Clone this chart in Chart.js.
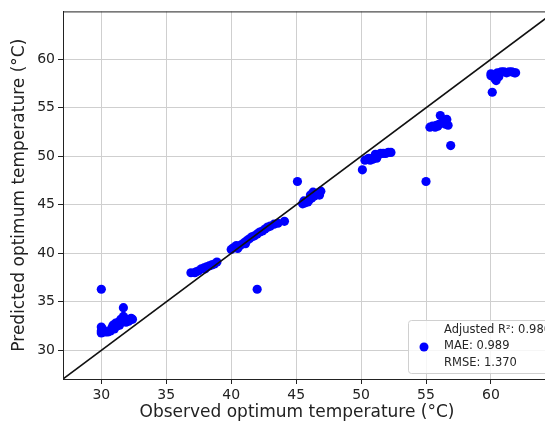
<!DOCTYPE html>
<html>
<head>
<meta charset="utf-8">
<script src="https://cdn.jsdelivr.net/npm/chart.js@4/dist/chart.umd.min.js"></script>
<style>
  html, body { margin: 0; padding: 0; overflow: hidden; background: #fff; }
</style>
</head>
<body>
<canvas id="grafica" width="560" height="421"></canvas>
<script>
const $grafica = document.querySelector("#grafica");

// observed / predicted optimum temperatures (°C)
const observado = [
  30.0, 30.0, 30.0, 30.1, 30.3, 30.5, 30.7, 30.8, 30.9, 31.0, 31.1, 31.2, 31.3, 31.4, 31.5, 31.6, 31.7, 31.7, 31.8, 31.9, 32.0, 32.1, 32.3, 32.4, 30.0,
  36.9, 37.2, 37.3, 37.5, 37.7, 37.9, 38.0, 38.1, 38.3, 38.5, 38.7, 38.9,
  40.0, 40.2, 40.4, 40.5, 40.6, 40.8, 41.0, 41.1, 41.2, 41.4, 41.6, 41.8, 42.0, 42.2, 42.4, 42.6, 42.8, 43.0, 43.3, 43.6, 44.1, 42.0,
  45.5, 45.6, 45.7, 45.9, 46.0, 46.1, 46.2, 46.4, 46.3, 46.6, 46.8, 46.9, 45.1,
  50.3, 50.5, 50.6, 50.7, 50.9, 51.0, 51.1, 51.2, 51.3, 51.5, 51.7, 51.9, 52.1, 52.3, 50.1, 55.0,
  55.3, 55.5, 55.7, 55.8, 55.9, 56.0, 56.1, 56.3, 56.5, 56.6, 56.7, 56.9,
  60.0, 60.0, 60.2, 60.3, 60.4, 60.5, 60.6, 60.8, 61.0, 61.2, 61.4, 61.6, 61.8, 61.9, 60.1
];
const predicho = [
  32.0, 32.4, 31.8, 32.2, 31.9, 31.9, 32.0, 32.3, 32.6, 32.2, 32.8, 32.5, 32.9, 32.6, 33.2, 33.0, 33.5, 34.4, 33.3, 32.9, 33.1, 33.0, 33.3, 33.2, 36.3,
  38.0, 38.0, 38.1, 38.2, 38.4, 38.5, 38.4, 38.6, 38.7, 38.8, 38.9, 39.1,
  40.4, 40.6, 40.8, 40.5, 40.7, 40.9, 41.1, 41.0, 41.3, 41.5, 41.7, 41.8, 42.0, 42.2, 42.3, 42.5, 42.7, 42.8, 43.0, 43.1, 43.3, 36.3,
  45.1, 45.4, 45.2, 45.3, 45.5, 46.0, 45.7, 45.9, 46.3, 46.2, 46.0, 46.4, 47.4,
  49.6, 49.7, 49.8, 49.6, 49.7, 49.9, 50.2, 49.8, 50.1, 50.3, 50.3, 50.3, 50.4, 50.4, 48.6, 47.4,
  53.0, 53.1, 53.0, 53.2, 53.1, 53.3, 54.2, 53.5, 53.3, 53.8, 53.2, 51.1,
  58.3, 58.5, 58.4, 58.0, 57.8, 58.6, 58.2, 58.7, 58.7, 58.6, 58.7, 58.7, 58.6, 58.6, 56.6
];
const lineaIdeal = [27, 65];
const marcas = [30, 35, 40, 45, 50, 55, 60];
const leyenda = ["Adjusted R²: 0.980", "MAE: 0.989", "RMSE: 1.370"];
const tituloX = "Observed optimum temperature (°C)";

const puntos = observado.map((x, i) => ({ x: x, y: predicho[i] }));
const diagonal = lineaIdeal.map(v => ({ x: v, y: v }));

const fuente = "'DejaVu Sans', sans-serif";

const marco = {
  id: "marco",
  afterDraw(chart) {
    const { ctx, chartArea: a } = chart;
    ctx.save();
    ctx.strokeStyle = "#222";
    ctx.lineWidth = 1;
    ctx.strokeRect(a.left + 0.5, a.top + 0.5, a.right - a.left - 1, a.bottom - a.top);

    // x axis title (sits a bit left of the plot centre in the original)
    ctx.fillStyle = "#222";
    ctx.font = "17px " + fuente;
    ctx.textAlign = "center";
    ctx.textBaseline = "middle";
    ctx.fillText(tituloX, a.left + 234, 413);

    // legend box
    ctx.textAlign = "left";
    ctx.font = "11.5px " + fuente;
    const anchoTexto = Math.max(...leyenda.map(t => ctx.measureText(t).width));
    const izq = a.right - 147;
    const textoX = izq + 36;
    const arriba = a.bottom - 59;
    const alto = 53;
    const ancho = textoX - izq + anchoTexto + 8;
    ctx.beginPath();
    ctx.roundRect(izq + 0.5, arriba + 0.5, ancho, alto, 3);
    ctx.fillStyle = "rgba(255,255,255,0.8)";
    ctx.fill();
    ctx.strokeStyle = "#d0d0d0";
    ctx.stroke();

    ctx.fillStyle = "#0000ff";
    ctx.beginPath();
    ctx.arc(izq + 16, arriba + 27, 4.5, 0, Math.PI * 2);
    ctx.fill();

    ctx.fillStyle = "#262626";
    leyenda.forEach((t, i) => ctx.fillText(t, textoX, arriba + 10 + i * 16.5));
    ctx.restore();
  }
};

const ejeComun = {
  type: "linear",
  min: 27.05,
  max: 64.93,
  afterBuildTicks: s => { s.ticks = marcas.map(v => ({ value: v })); },
  grid: { color: "#cfcfcf", lineWidth: 1, tickColor: "#222", tickLength: 5 },
  border: { color: "#222" },
  ticks: { color: "#222", font: { family: fuente, size: 14 }, padding: 3 }
};

new Chart($grafica, {
  type: "scatter",
  data: {
    datasets: [
      {
        type: "line",
        data: diagonal,
        borderColor: "#111",
        borderWidth: 1.6,
        pointRadius: 0,
        fill: false,
        order: 0
      },
      {
        data: puntos,
        backgroundColor: "#0000ff",
        borderWidth: 0,
        pointRadius: 4.6,
        pointHoverRadius: 4.6,
        order: 1
      }
    ]
  },
  options: {
    responsive: false,
    animation: false,
    devicePixelRatio: 1,
    layout: { padding: { top: 11, right: 5, left: 0, bottom: 0 } },
    scales: {
      x: {
        ...ejeComun,
        afterFit: s => { s.height = 42; }
      },
      y: {
        ...ejeComun,
        afterFit: s => { s.width = 63; },
        title: {
          display: true,
          text: "Predicted optimum temperature (°C)",
          color: "#222",
          font: { family: fuente, size: 17 },
          padding: { top: 9, bottom: 0 }
        }
      }
    },
    plugins: {
      legend: { display: false },
      tooltip: { enabled: false }
    }
  },
  plugins: [marco]
});
</script>
</body>
</html>
